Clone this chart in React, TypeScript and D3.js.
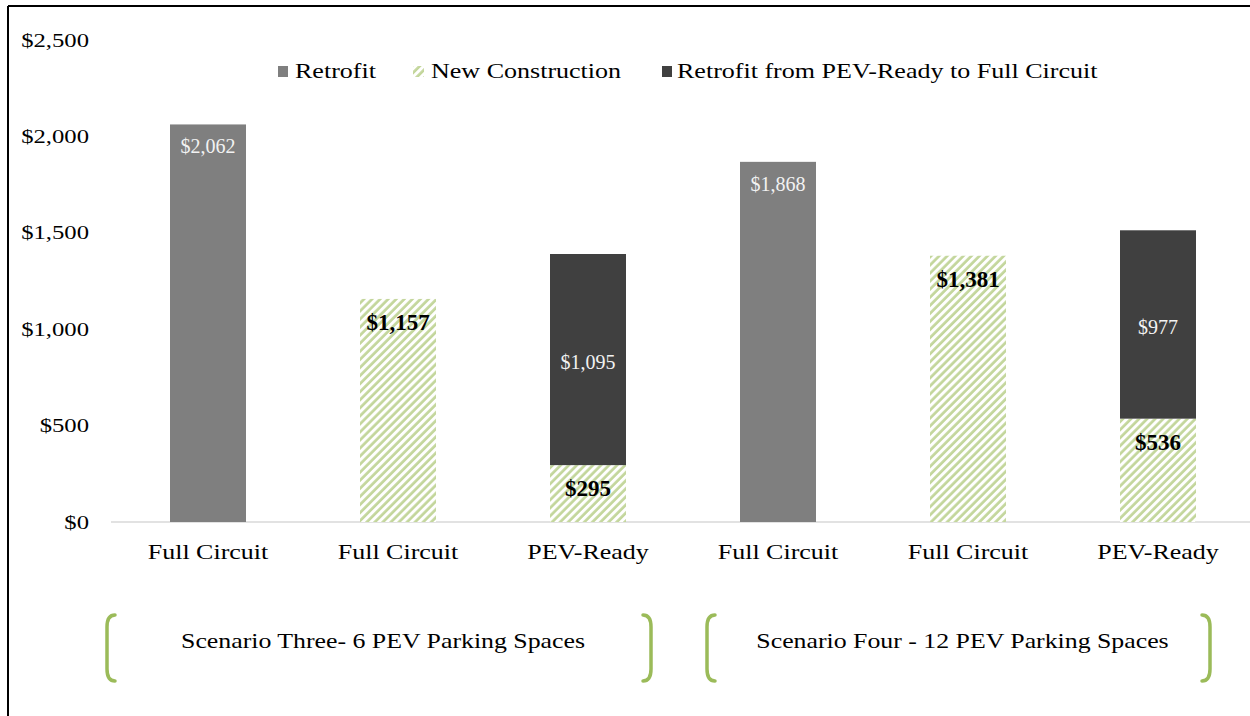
import React from "react";
import * as d3 from "d3";

const categories = ["Full Circuit", "Full Circuit", "PEV-Ready", "Full Circuit", "Full Circuit", "PEV-Ready"];
const retrofit = [2062, 0, 0, 1868, 0, 0];
const newConstruction = [0, 1157, 295, 0, 1381, 536];
const retrofitFromReady = [0, 0, 1095, 0, 0, 977];
const yTicks = [0, 500, 1000, 1500, 2000, 2500];
const seriesNames = ["Retrofit", "New Construction", "Retrofit from PEV-Ready to Full Circuit"];
const scenarios = ["Scenario Three- 6 PEV Parking Spaces", "Scenario Four - 12 PEV Parking Spaces"];

const W = 1250;
const H = 716;
const FONT = "'Liberation Serif', 'Times New Roman', serif";
const GRAY = "#7f7f7f";
const DARK = "#404040";
const HATCH = "#c3d69b";
const OLIVE = "#9bbb59";

const fmt = (v: number) => "$" + d3.format(",")(v);

export default function App() {
  const x = d3
    .scaleBand<number>()
    .domain(categories.map((_, i) => i))
    .range([113, 1253])
    .paddingInner(0.6)
    .paddingOuter(0.3);
  const y = d3.scaleLinear().domain([0, 2500]).range([522, 40]);
  const bw = x.bandwidth();

  // bracket layout per scenario: [left, right]
  const brackets = [
    [104, 654],
    [704, 1213],
  ];

  const bracketPath = (xb: number, dir: number) => {
    const top = 615;
    const bot = 681;
    const r = 8;
    return `M${xb + dir * r},${top} Q${xb},${top} ${xb},${top + r + 4} L${xb},${bot - r - 4} Q${xb},${bot} ${xb + dir * r},${bot}`;
  };

  const st = (tx: number, ty: number, sx: number) => `translate(${tx},${ty}) scale(${sx},1)`;

  return (
    <svg width={W} height={H} style={{ display: "block", position: "absolute", left: 0, top: 0 }} fontFamily={FONT}>
      <defs>
        <pattern id="hatch" patternUnits="userSpaceOnUse" width={5.7} height={5.7} patternTransform="rotate(45)">
          <rect width={5.7} height={5.7} fill="#ffffff" />
          <line x1={1.5} y1={0} x2={1.5} y2={5.7} stroke={HATCH} strokeWidth={2.7} />
        </pattern>
      </defs>
      <rect x={0} y={0} width={W} height={H} fill="#ffffff" />
      {/* border */}
      <line x1={8} y1={6} x2={1250} y2={6} stroke="#000" strokeWidth={2} />
      <line x1={8} y1={6} x2={8} y2={716} stroke="#000" strokeWidth={2} />

      {/* y tick labels */}
      {yTicks.map((t) => (
        <text key={t} transform={st(89, y(t), 1.3)} dy="0.35em" textAnchor="end" fontSize={19} fill="#000">
          {fmt(t)}
        </text>
      ))}

      {/* baseline */}
      <line x1={111} x2={1250} y1={y(0)} y2={y(0)} stroke="#d9d9d9" strokeWidth={1.5} />

      {/* bars */}
      {categories.map((_, i) => {
        const x0 = x(i)!;
        const nc = newConstruction[i];
        const rf = retrofit[i];
        const rr = retrofitFromReady[i];
        return (
          <g key={i}>
            {rf > 0 && <rect x={x0} y={y(rf)} width={bw} height={y(0) - y(rf)} fill={GRAY} />}
            {nc > 0 && <rect x={x0} y={y(nc)} width={bw} height={y(0) - y(nc)} fill="url(#hatch)" />}
            {rr > 0 && <rect x={x0} y={y(nc + rr)} width={bw} height={y(nc) - y(nc + rr)} fill={DARK} />}
          </g>
        );
      })}

      {/* value labels */}
      {categories.map((_, i) => {
        const cx = x(i)! + bw / 2;
        const nc = newConstruction[i];
        const rf = retrofit[i];
        const rr = retrofitFromReady[i];
        return (
          <g key={"l" + i}>
            {rf > 0 && (
              <text x={cx} y={y(rf) + 29} textAnchor="middle" fontSize={20} fill="#f2f2f2">
                {fmt(rf)}
              </text>
            )}
            {nc > 0 && (
              <text x={cx} y={y(nc) + 31} textAnchor="middle" fontSize={23} fontWeight="bold" fill="#000">
                {fmt(nc)}
              </text>
            )}
            {rr > 0 && (
              <text x={cx} y={(y(nc) + y(nc + rr)) / 2 + 2.5} dy="0.35em" textAnchor="middle" fontSize={20} fill="#f2f2f2">
                {fmt(rr)}
              </text>
            )}
          </g>
        );
      })}

      {/* category labels */}
      {categories.map((c, i) => (
        <text key={"c" + i} transform={st(x(i)! + bw / 2, 559, 1.18)} textAnchor="middle" fontSize={22} fill="#000">
          {c}
        </text>
      ))}

      {/* legend */}
      <g fontSize={21} fill="#000">
        <rect x={278} y={66} width={10} height={11} fill={GRAY} />
        <text transform={st(295, 78, 1.24)}>{seriesNames[0]}</text>
        <rect x={413} y={66} width={11} height={11} fill="url(#hatch)" />
        <text transform={st(431, 78, 1.24)}>{seriesNames[1]}</text>
        <rect x={662} y={66} width={10} height={11} fill={DARK} />
        <text transform={st(677, 78, 1.24)}>{seriesNames[2]}</text>
      </g>

      {/* scenario brackets */}
      {scenarios.map((s, i) => {
        const [l, r] = brackets[i];
        return (
          <g key={"s" + i}>
            <path d={bracketPath(l + 3, 1)} fill="none" stroke={OLIVE} strokeWidth={3.5} strokeLinecap="round" />
            <path d={bracketPath(r - 3, -1)} fill="none" stroke={OLIVE} strokeWidth={3.5} strokeLinecap="round" />
            <text transform={st((l + r) / 2 + 4, 648, 1.23)} textAnchor="middle" fontSize={21} fill="#000">
              {s}
            </text>
          </g>
        );
      })}
    </svg>
  );
}
